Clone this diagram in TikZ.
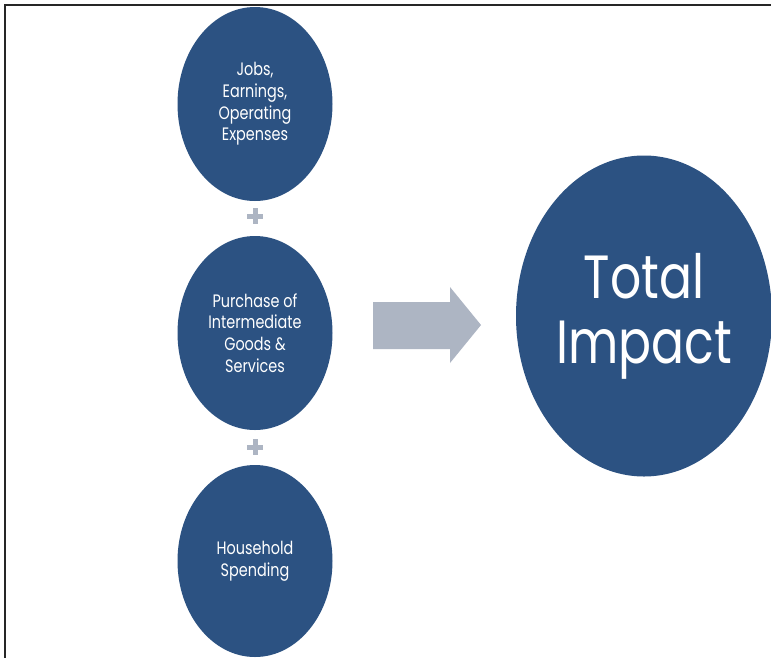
\documentclass[tikz,border=0pt]{standalone}
\usepackage{fontspec}
\setmainfont{Poppins}[FakeStretch=0.8]
\usetikzlibrary{shapes.geometric}
\definecolor{navy}{HTML}{2C5282}
\definecolor{steel}{HTML}{ADB5C3}
\begin{document}
\begin{tikzpicture}[x=1pt,y=-1pt,
  bubble/.style={ellipse, fill=navy, text=white, inner xsep=-40pt, inner ysep=-20pt, align=center,
    font=\fontsize{18}{21.7}\selectfont},
  small/.style={bubble, minimum width=155pt, minimum height=194pt},
  plusbar/.style={fill=steel}]
\useasboundingbox (0,0) rectangle (771,657);
\clip (0,0) rectangle (771,657);
\fill[white] (0,0) rectangle (771,657);
\draw[line width=2pt, black!85] (5.3,660) -- (5.3,4.8) -- (775,4.8);

\node[small] (jobs) at (255,104) {Jobs,\\Earnings,\\Operating\\Expenses};
\node[small] (purchase) at (255,333) {Purchase of\\Intermediate\\Goods \&\\Services};
\node[small, minimum height=192pt] (household) at (255,561) {Household\\Spending};

\coordinate (p1) at (255,216);
\coordinate (p2) at (255,447);
\foreach \c in {p1,p2}{
  \fill[plusbar] ([shift={(-8,-2.5)}]\c) rectangle ([shift={(8,2.5)}]\c);
  \fill[plusbar] ([shift={(-2.5,-8)}]\c) rectangle ([shift={(2.5,8)}]\c);
}

\fill[steel] (373,302) -- (450,302) -- (450,287) -- (481,325) -- (450,363) -- (450,349) -- (373,349) -- cycle;

\node[bubble, minimum width=256pt, minimum height=321pt,
  font=\fontsize{61}{65}\selectfont] (total) at (644,316) {Total\\Impact};
\end{tikzpicture}
\end{document}
